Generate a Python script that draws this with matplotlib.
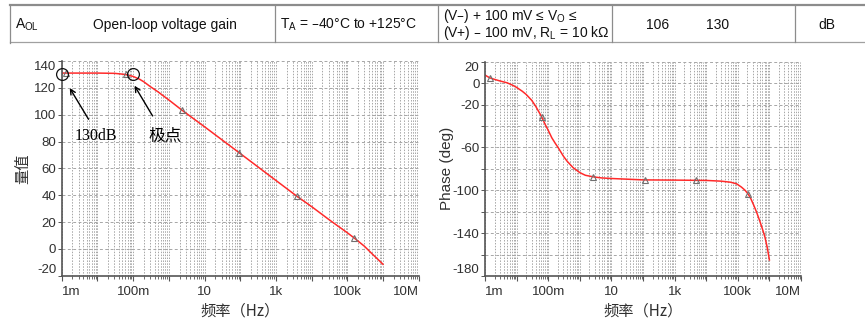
import matplotlib
matplotlib.use("Agg")
import matplotlib.pyplot as plt
import matplotlib.ticker as mticker
from matplotlib.lines import Line2D

plt.rcParams["font.family"] = ["Liberation Sans", "Noto Sans CJK SC"]
plt.rcParams["mathtext.default"] = "regular"

# Open-loop gain (dB) vs frequency (Hz)
MAG_FREQ = [1e-3, 3e-3, 1e-2, 3e-2, 6e-2, 0.1, 0.15, 0.2, 0.3, 0.5, 1, 2.3, 10, 30, 93,
            300, 1e3, 3.8e3, 1e4, 3e4, 1e5, 1.58e5, 3e5, 5e5, 7e5, 1e6]
MAG_DB = [131, 131, 131, 130.8, 130.0, 128.5, 126.5, 124.5, 121, 117, 111, 103.5, 91, 81.5, 71.7,
          61.5, 51, 39.4, 31.5, 22, 12, 8, 2, -3.8, -7.5, -11.5]
MAG_MARK_FREQ = [1.3e-3, 6.3e-2, 2.3, 93, 3.8e3, 1.58e5]
MAG_MARK_DB = [131, 130, 103.5, 71.7, 39.4, 7.9]
CIRCLE_FREQ = [1e-3, 0.1]
CIRCLE_DB = [130, 130]

# Open-loop phase (deg) vs frequency (Hz)
PH_FREQ = [1e-3, 1.4e-3, 2e-3, 3e-3, 5e-3, 7e-3, 1e-2, 1.5e-2, 2e-2, 3e-2, 4e-2,
           6.2e-2, 8e-2, 0.1, 0.13, 0.17, 0.21, 0.3, 0.4, 0.62, 1, 1.5, 2.7, 5,
           10, 100, 1e3, 1e4, 3e4, 6e4, 9.2e4, 1.3e5, 1.7e5, 2.14e5, 2.6e5,
           3.2e5, 4e5, 5e5, 6e5, 7.2e5, 8.5e5, 1e6]
PH_DEG = [7.5, 5, 3.5, 2, 0.3, -1.5, -4, -7.5, -10.5, -16, -21.5,
          -31.4, -38.5, -44, -51, -56.5, -60.5, -68, -73, -79, -83.5, -86, -87.5, -88.5,
          -89, -90.3, -90.5, -90.8, -91.5, -92.5, -94, -97, -100, -103.6, -108,
          -114, -121, -129, -136, -143.5, -153, -165]
PH_MARK_FREQ = [1.4e-3, 6.2e-2, 2.7, 115, 4.8e3, 2.14e5]
PH_MARK_DEG = [5, -31.4, -87.5, -90.5, -90.5, -103.6]

X_TICKS = [1e-3, 1e-2, 1e-1, 1, 10, 100, 1e3, 1e4, 1e5, 1e6, 1e7]
X_LABELS = ["1m", "", "100m", "", "10", "", "1k", "", "100k", "", "10M"]
MAG_TICKS = [-20, 0, 20, 40, 60, 80, 100, 120, 140]
PH_TICKS = [-180, -160, -140, -120, -100, -80, -60, -40, -20, 0, 20]
PH_LABELS = ["-180", "", "-140", "", "-100", "", "-60", "", "-20", "0", "20"]

# table row: (text, x, y, alignment)
TABLE_CELLS = [
    ("$A_{OL}$", 15, 24.5, "left"),
    ("Open-loop voltage gain", 165, 24.5, "center"),
    ("$T_{A}$ = –40°C to +125°C", 280, 24.5, "left"),
    ("(V–) + 100 mV ≤ $V_{O}$ ≤", 443, 16, "left"),
    ("(V+) – 100 mV, $R_{L}$ = 10 kΩ", 443, 33, "left"),
    ("106", 658, 24.5, "center"),
    ("130", 718, 24.5, "center"),
    ("dB", 827, 24.5, "center"),
]
TABLE_DIVIDERS = [10, 275, 438, 612, 795]

W, H = 865, 322
RED = "#ff2a2a"
GRID = "#a6a6a6"
TXT = "#303030"
CJK = ["Noto Sans CJK SC"]

fig = plt.figure(figsize=(W / 100, H / 100), dpi=100)


def px_axes(x0, y0, x1, y1):
    return fig.add_axes([x0 / W, 1 - y1 / H, (x1 - x0) / W, (y1 - y0) / H])


def style_axes(ax, yticks, ylabels, ylim):
    ax.set_xscale("log")
    ax.set_xlim(1e-3, 1e7)
    ax.set_ylim(*ylim)
    ax.set_xticks(X_TICKS, X_LABELS)
    ax.xaxis.set_minor_locator(mticker.LogLocator(base=10, subs=range(2, 10), numticks=50))
    ax.xaxis.set_minor_formatter(mticker.NullFormatter())
    ax.set_yticks(yticks, ylabels)
    ax.grid(True, axis="x", which="both", color=GRID, lw=0.7, ls=(0, (1.5, 1.5)))
    ax.grid(True, axis="y", which="major", color=GRID, lw=0.7, ls=(0, (3, 2.5)))
    for s in ("top", "right"):
        ax.spines[s].set_visible(False)
    for s in ("left", "bottom"):
        ax.spines[s].set_color("#555555")
        ax.spines[s].set_linewidth(1.2)
    ax.tick_params(axis="x", which="major", length=3.5, width=0.8, color="#555555",
                   labelsize=9.5, labelcolor=TXT, pad=4)
    ax.tick_params(axis="x", which="minor", length=1.8, width=0.6, color="#555555")
    ax.tick_params(axis="y", length=3, width=0.7, color="#555555",
                   labelsize=9.5, labelcolor=TXT, pad=1)
    xt = ax.xaxis.get_major_ticks()
    xt[0].label1.set_horizontalalignment("left")
    xt[-1].label1.set_horizontalalignment("right")
    yt = ax.yaxis.get_major_ticks()
    yt[0].label1.set_verticalalignment("bottom")
    yt[-1].label1.set_verticalalignment("top")
    ax.set_xlabel("频率（Hz）", family=CJK, fontsize=11, color=TXT, labelpad=3)
    ax.set_axisbelow(True)


# magnitude
ax1 = px_axes(61.7, 61, 418.7, 275.7)
style_axes(ax1, MAG_TICKS, [str(t) for t in MAG_TICKS], (-20, 140))
ax1.plot(MAG_FREQ, MAG_DB, color=RED, lw=1.1)
ax1.plot(MAG_MARK_FREQ, MAG_MARK_DB, ls="none", marker="^", ms=5,
         mfc="none", mec="#707070", mew=0.8)
ax1.plot(CIRCLE_FREQ, CIRCLE_DB, ls="none", marker="o", ms=8.5,
         mfc="none", mec="#111111", mew=0.9, clip_on=False, zorder=5)
ax1.set_ylabel("量值", family=CJK, fontsize=11, color=TXT, labelpad=2)

arrow = dict(arrowstyle="->", color="black", lw=1.0, mutation_scale=9)
ax1.annotate("", xy=(1.53e-3, 121.6), xytext=(6.2e-3, 94.8), arrowprops=arrow)
ax1.annotate("", xy=(0.1, 123.4), xytext=(0.385, 97.3), arrowprops=arrow)
ax1.text(9.2e-3, 84.1, "130dB", family="Liberation Serif", fontsize=11.5,
         ha="center", va="center", color="black")
ax1.text(0.78, 84.1, "极点", family=CJK, fontsize=12,
         ha="center", va="center", color="black")

# phase
ax2 = px_axes(485, 61.7, 801, 276)
style_axes(ax2, PH_TICKS, PH_LABELS, (-180, 20))
ax2.plot(PH_FREQ, PH_DEG, color=RED, lw=1.1)
ax2.plot(PH_MARK_FREQ, PH_MARK_DEG, ls="none", marker="^", ms=5,
         mfc="none", mec="#707070", mew=0.8)
ax2.set_ylabel("Phase (deg)", fontsize=11, color=TXT, labelpad=-1)

# spec table row above the plots
tab = fig.add_axes([0, 0, 1, 1], zorder=-1)
tab.set_xlim(0, W)
tab.set_ylim(H, 0)
tab.axis("off")
tab.add_line(Line2D([10, W], [5, 5], color="#8c8c8c", lw=1.6))
tab.add_line(Line2D([10, W], [41.5, 41.5], color="#a0a0a0", lw=0.9))
for xd in TABLE_DIVIDERS:
    tab.add_line(Line2D([xd, xd], [5, 43 if xd == TABLE_DIVIDERS[0] else 41.5],
                        color="#8c8c8c", lw=0.9))
for text, x, y, ha in TABLE_CELLS:
    tab.text(x, y, text, fontsize=10, ha=ha, va="center", color="#111111")

fig.savefig("out.png", dpi=100)
